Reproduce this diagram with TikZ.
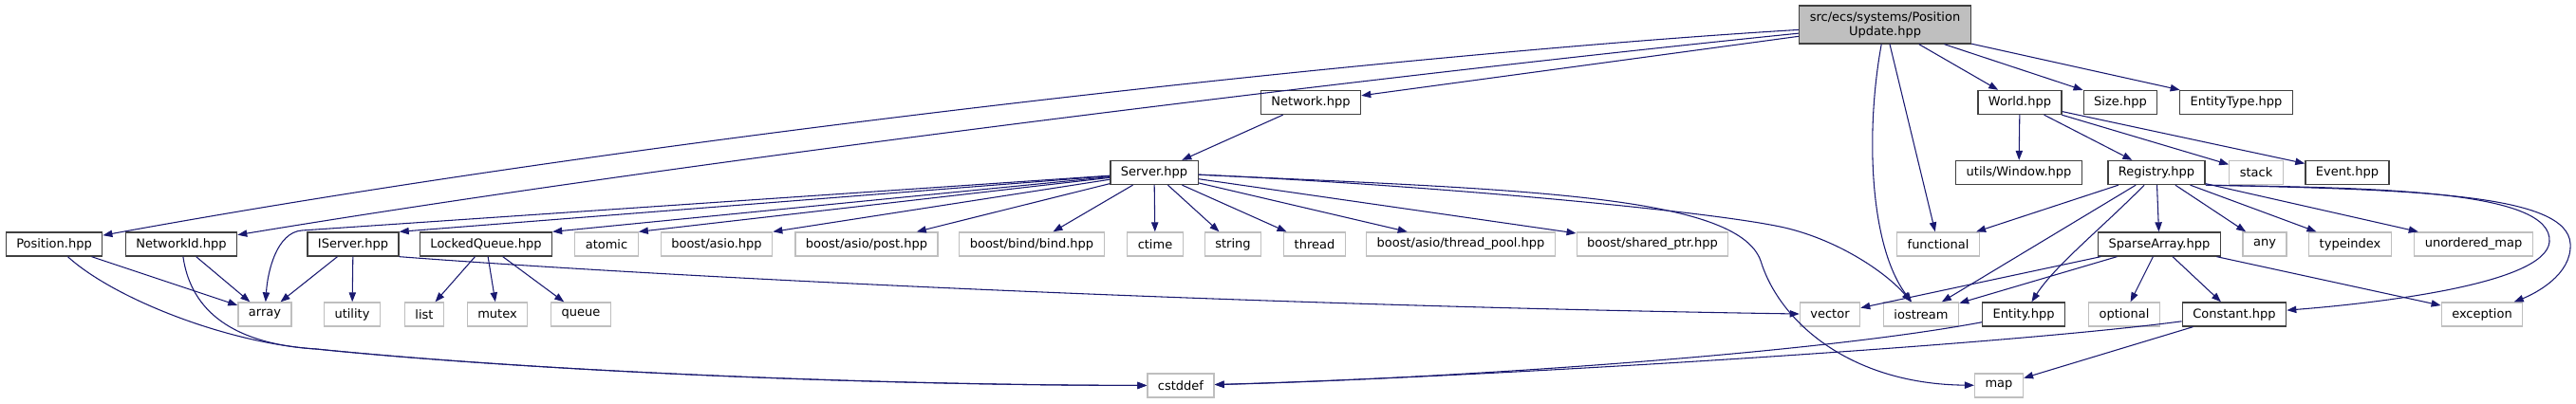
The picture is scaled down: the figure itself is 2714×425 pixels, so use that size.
\documentclass[tikz,border=0pt]{standalone}
\usepackage{fontspec}
\setmainfont{DejaVu Sans}
\usetikzlibrary{arrows.meta}
\definecolor{edgeblue}{HTML}{191970}
\definecolor{sysgray}{HTML}{BFBFBF}
\definecolor{hdrgray}{HTML}{404040}
\begin{document}
\begin{tikzpicture}[x=0.75pt,y=-0.75pt,every node/.style={font=\fontsize{9.75}{11.25}\selectfont,inner xsep=8.25pt,inner ysep=0pt,minimum height=18.75pt},hdr/.style={draw=hdrgray,line width=1pt,fill=white},sys/.style={draw=sysgray,line width=1pt,fill=white},rootbox/.style={hdr,fill=sysgray,align=center,minimum height=30pt},dep/.style={draw=edgeblue,line width=0.8pt,-{Triangle[length=7.5pt,width=5.5pt]}}]
\useasboundingbox (0,0) rectangle (2714,425);
\node[rootbox] (root) at (1986,26) {src/ecs/systems/Position\\Update.hpp};
\node[hdr] (network) at (1381,108) {Network.hpp};
\node[hdr] (world) at (2128,108) {World.hpp};
\node[hdr] (size) at (2234,108) {Size.hpp};
\node[hdr] (etype) at (2356,108) {EntityType.hpp};
\node[hdr] (server) at (1216,182) {Server.hpp};
\node[hdr] (window) at (2127,182) {utils/Window.hpp};
\node[hdr] (registry) at (2272,182) {Registry.hpp};
\node[sys] (stack) at (2377,182) {stack};
\node[hdr] (event) at (2473,182) {Event.hpp};
\node[hdr] (position) at (57,257.5) {Position.hpp};
\node[hdr] (netid) at (191,257.5) {NetworkId.hpp};
\node[hdr] (iserver) at (372,257.5) {IServer.hpp};
\node[hdr] (lqueue) at (512,257.5) {LockedQueue.hpp};
\node[sys] (atomic) at (639,257.5) {atomic};
\node[sys] (asio) at (755,257.5) {boost/asio.hpp};
\node[sys] (post) at (913,257.5) {boost/asio/post.hpp};
\node[sys] (bind) at (1087,257.5) {boost/bind/bind.hpp};
\node[sys] (ctime) at (1217,257.5) {ctime};
\node[sys] (string) at (1299,257.5) {string};
\node[sys] (thread) at (1385,257.5) {thread};
\node[sys] (tpool) at (1539,257.5) {boost/asio/thread\_pool.hpp};
\node[sys] (sptr) at (1741,257.5) {boost/shared\_ptr.hpp};
\node[sys] (functional) at (2042,257.5) {functional};
\node[hdr] (sparse) at (2275,257.5) {SparseArray.hpp};
\node[sys] (any) at (2386,257.5) {any};
\node[sys] (typeindex) at (2476,257.5) {typeindex};
\node[sys] (umap) at (2606,257.5) {unordered\_map};
\node[sys] (array) at (279,331.5) {array};
\node[sys] (utility) at (371,331.5) {utility};
\node[sys] (list) at (447,331.5) {list};
\node[sys] (mutex) at (524,331.5) {mutex};
\node[sys] (queue) at (612,331.5) {queue};
\node[sys] (vector) at (1928,331.5) {vector};
\node[sys] (iostream) at (2024,331.5) {iostream};
\node[hdr] (entity) at (2132,331.5) {Entity.hpp};
\node[sys] (optional) at (2238,331.5) {optional};
\node[hdr] (constant) at (2354,331.5) {Constant.hpp};
\node[sys] (exception) at (2615,331.5) {exception};
\node[sys] (cstddef) at (1244,406.5) {cstddef};
\node[sys] (map) at (2106,406.5) {map};
\draw[dep] (root) .. controls (1500,55) and (700,140) .. (position);
\draw[dep] (root) .. controls (1500,75) and (750,165) .. (netid);
\draw[dep] (root) -- (network);
\draw[dep] (root) -- (world);
\draw[dep] (root) -- (size);
\draw[dep] (root) -- (etype);
\draw[dep] (root) .. controls (1965,140) and (1970,260) .. (iostream);
\draw[dep] (root) -- (functional);
\draw[dep] (network) -- (server);
\draw[dep] (server) -- (318,243) .. controls (292,245) and (282,285) .. (array);
\draw[dep] (server) -- (iserver.north east);
\draw[dep] (server) -- (lqueue.north east);
\draw[dep] (server) -- (atomic.north east);
\draw[dep] (server) -- (asio.north east);
\draw[dep] (server) -- (post);
\draw[dep] (server) -- (bind);
\draw[dep] (server) -- (ctime);
\draw[dep] (server) -- (string);
\draw[dep] (server) -- (thread);
\draw[dep] (server) -- (tpool);
\draw[dep] (server) -- (sptr);
\draw[dep] (server) .. controls (1500,195) and (1800,222) .. (1880,240) .. controls (1940,254) and (1990,290) .. (iostream);
\draw[dep] (server) .. controls (1600,200) and (1830,205) .. (1855,275) .. controls (1875,340) and (1950,405) .. (map);
\draw[dep] (position) -- (array);
\draw[dep] (position) .. controls (120,315) and (240,362) .. (333,368) .. controls (550,390) and (900,406) .. (cstddef);
\draw[dep] (netid) -- (array);
\draw[dep] (netid) .. controls (200,320) and (235,362) .. (333,368) .. controls (550,390) and (900,406) .. (cstddef);
\draw[dep] (iserver) -- (array);
\draw[dep] (iserver) -- (utility);
\draw[dep] (iserver.south east) .. controls (700,292) and (1300,322) .. (vector);
\draw[dep] (lqueue) -- (list);
\draw[dep] (lqueue) -- (mutex);
\draw[dep] (lqueue) -- (queue);
\draw[dep] (world) -- (window);
\draw[dep] (world) -- (registry);
\draw[dep] (world) -- (stack);
\draw[dep] (world) -- (event);
\draw[dep] (registry) -- (functional);
\draw[dep] (registry) -- (iostream);
\draw[dep] (registry) .. controls (2215,240) and (2165,280) .. (entity);
\draw[dep] (registry) -- (sparse);
\draw[dep] (registry) -- (any);
\draw[dep] (registry) -- (typeindex);
\draw[dep] (registry) -- (umap);
\draw[dep] (registry.south east) .. controls (2500,198) and (2690,200) .. (2686,255) .. controls (2682,300) and (2500,320) .. (constant);
\draw[dep] (registry.south east) .. controls (2550,200) and (2705,205) .. (2708,257) .. controls (2710,290) and (2670,310) .. (exception);
\draw[dep] (sparse) -- (vector);
\draw[dep] (sparse) -- (iostream);
\draw[dep] (sparse) -- (optional);
\draw[dep] (sparse) -- (constant);
\draw[dep] (sparse) -- (exception);
\draw[dep] (entity) .. controls (1900,375) and (1500,400) .. (cstddef);
\draw[dep] (constant) .. controls (2100,365) and (1550,398) .. (cstddef);
\draw[dep] (constant) -- (map);
\end{tikzpicture}
\end{document}
